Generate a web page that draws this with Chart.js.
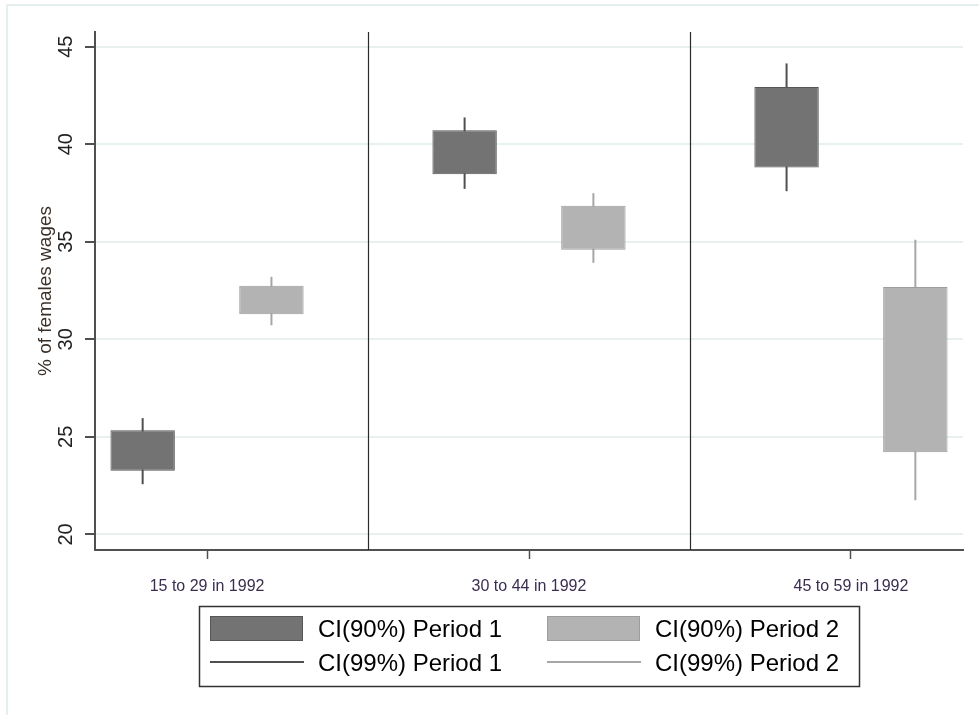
<!DOCTYPE html>
<html>
<head>
<meta charset="utf-8">
<title>% of females wages</title>
<script src="https://cdn.jsdelivr.net/npm/chart.js@4.4.0/dist/chart.umd.min.js"></script>
<style>
    html, body { margin: 0; padding: 0; background: #ffffff; }
    #wrap { width: 979px; height: 715px; }
</style>
</head>
<body>
<div id="wrap"><canvas id="myChart1" width="979" height="715"></canvas></div>
<script>
// Age groups on the x axis
const categories = ['15 to 29 in 1992', '30 to 44 in 1992', '45 to 59 in 1992'];
const categoryPos = [1, 2, 3];
const panelBreaks = [1.5, 2.5];
const yTicks = [20, 25, 30, 35, 40, 45];

// Period 1: 99% and 90% confidence intervals
const p1Low99 = [22.57, 37.71, 37.59];
const p1Low90 = [23.26, 38.46, 38.81];
const p1High90 = [25.34, 40.71, 42.93];
const p1High99 = [25.96, 41.37, 44.14];

// Period 2: 99% and 90% confidence intervals
const p2Low99 = [30.72, 33.92, 21.75];
const p2Low90 = [31.28, 34.59, 24.21];
const p2High90 = [32.74, 36.85, 32.68];
const p2High99 = [33.20, 37.49, 35.10];

const FONT = "'Liberation Sans', Arial, sans-serif";

document.addEventListener('DOMContentLoaded', function () {
    const ctx1 = document.getElementById('myChart1').getContext('2d');

    // floating bars [low, high] placed left (period 1) or right (period 2) of the group
    function floatingBars(shift, lows, highs) {
        return categoryPos.map((x, i) => ({ x: x + shift, y: [lows[i], highs[i]] }));
    }

    // frame, panel separators and the boxed legend
    const decorPlugin = {
        id: 'decor',
        beforeDraw(chart) {
            const c = chart.ctx;
            c.save();
            c.strokeStyle = '#e6efef';
            c.lineWidth = 2;
            c.beginPath();
            c.moveTo(7, chart.height);
            c.lineTo(7, 5);
            c.lineTo(chart.width, 5);
            c.stroke();
            c.restore();
        },
        beforeDatasetsDraw(chart) {
            const c = chart.ctx;
            const area = chart.chartArea;
            const xs = chart.scales.x;
            c.save();
            c.strokeStyle = '#2b2b2b';
            c.lineWidth = 1.2;
            panelBreaks.forEach(b => {
                const px = Math.round(xs.getPixelForValue(b)) + 0.5;
                c.beginPath();
                c.moveTo(px, area.top);
                c.lineTo(px, area.bottom);
                c.stroke();
            });
            c.restore();
        },
        afterDraw(chart) {
            const c = chart.ctx;
            const area = chart.chartArea;
            const w = 660, h = 80, top = 606;
            const left = Math.round((area.left + area.right) / 2 - w / 2);
            c.save();
            c.strokeStyle = '#333333';
            c.lineWidth = 1.5;
            c.strokeRect(left + 0.5, top + 0.5, w, h);
            c.font = '24px ' + FONT;
            c.textBaseline = 'middle';
            c.fillStyle = '#000000';
            chart.data.datasets.forEach((ds, i) => {
                const row = Math.floor(i / 2);
                const col = i % 2;
                const sx = left + 11 + col * 337;
                if (row === 0) {
                    c.fillStyle = ds.backgroundColor;
                    c.fillRect(sx, top + 10, 93, 25);
                    c.strokeStyle = ds.borderColor;
                    c.lineWidth = 1;
                    c.strokeRect(sx + 0.5, top + 10.5, 92, 24);
                } else {
                    c.strokeStyle = ds.backgroundColor;
                    c.lineWidth = 2;
                    c.beginPath();
                    c.moveTo(sx, top + 56);
                    c.lineTo(sx + 94, top + 56);
                    c.stroke();
                }
                c.fillStyle = '#000000';
                c.fillText(ds.label, sx + 108, top + 24.5 + row * 33.5);
            });
            c.restore();
        }
    };

    new Chart(ctx1, {
        type: 'bar',
        data: {
            datasets: [{
                label: 'CI(90%) Period 1',
                data: floatingBars(-0.2, p1Low90, p1High90),
                backgroundColor: '#737373',
                borderColor: '#565656',
                borderWidth: 1,
                borderSkipped: false,
                grouped: false,
                categoryPercentage: 1,
                barPercentage: 0.5
            }, {
                label: 'CI(90%) Period 2',
                data: floatingBars(0.2, p2Low90, p2High90),
                backgroundColor: '#b3b3b3',
                borderColor: '#9d9d9d',
                borderWidth: 1,
                borderSkipped: false,
                grouped: false,
                categoryPercentage: 1,
                barPercentage: 0.5
            }, {
                label: 'CI(99%) Period 1',
                data: floatingBars(-0.2, p1Low99, p1High99),
                backgroundColor: '#4f4f4f',
                borderWidth: 0,
                grouped: false,
                maxBarThickness: 2
            }, {
                label: 'CI(99%) Period 2',
                data: floatingBars(0.2, p2Low99, p2High99),
                backgroundColor: '#a6a6a6',
                borderWidth: 0,
                grouped: false,
                maxBarThickness: 2
            }]
        },
        options: {
            responsive: false,
            animation: false,
            devicePixelRatio: 1,
            layout: { padding: { top: 32, right: 16, bottom: 0, left: 0 } },
            plugins: {
                legend: { display: false },
                tooltip: { enabled: false }
            },
            scales: {
                x: {
                    type: 'linear',
                    offset: false,
                    min: 0.652,
                    max: 3.348,
                    afterBuildTicks: axis => { axis.ticks = categoryPos.map(v => ({ value: v })); },
                    afterFit: axis => { axis.height = 165; },
                    grid: { offset: false, drawOnChartArea: false, tickLength: 9, tickColor: '#505050', tickWidth: 1.5 },
                    border: { color: '#505050', width: 2 },
                    ticks: {
                        autoSkip: false,
                        maxRotation: 0,
                        padding: 18,
                        color: '#3a2d4f',
                        font: { family: FONT, size: 16 },
                        callback: (value, index) => categories[index]
                    }
                },
                y: {
                    min: 19.2,
                    max: 45.75,
                    afterBuildTicks: axis => { axis.ticks = yTicks.map(v => ({ value: v })); },
                    afterFit: axis => { axis.width = 95; },
                    grid: { color: '#e8f0f0', lineWidth: 2, tickLength: 10, tickColor: '#505050', tickWidth: 2 },
                    border: { color: '#505050', width: 2 },
                    ticks: {
                        minRotation: 90,
                        maxRotation: 90,
                        crossAlign: 'center',
                        padding: 7,
                        color: '#222222',
                        font: { family: FONT, size: 20 }
                    },
                    title: {
                        display: true,
                        text: '% of females wages',
                        color: '#3b3028',
                        font: { family: FONT, size: 19 },
                        padding: { top: 34, bottom: 0 }
                    }
                }
            }
        },
        plugins: [decorPlugin]
    });
});
</script>
</body>
</html>
